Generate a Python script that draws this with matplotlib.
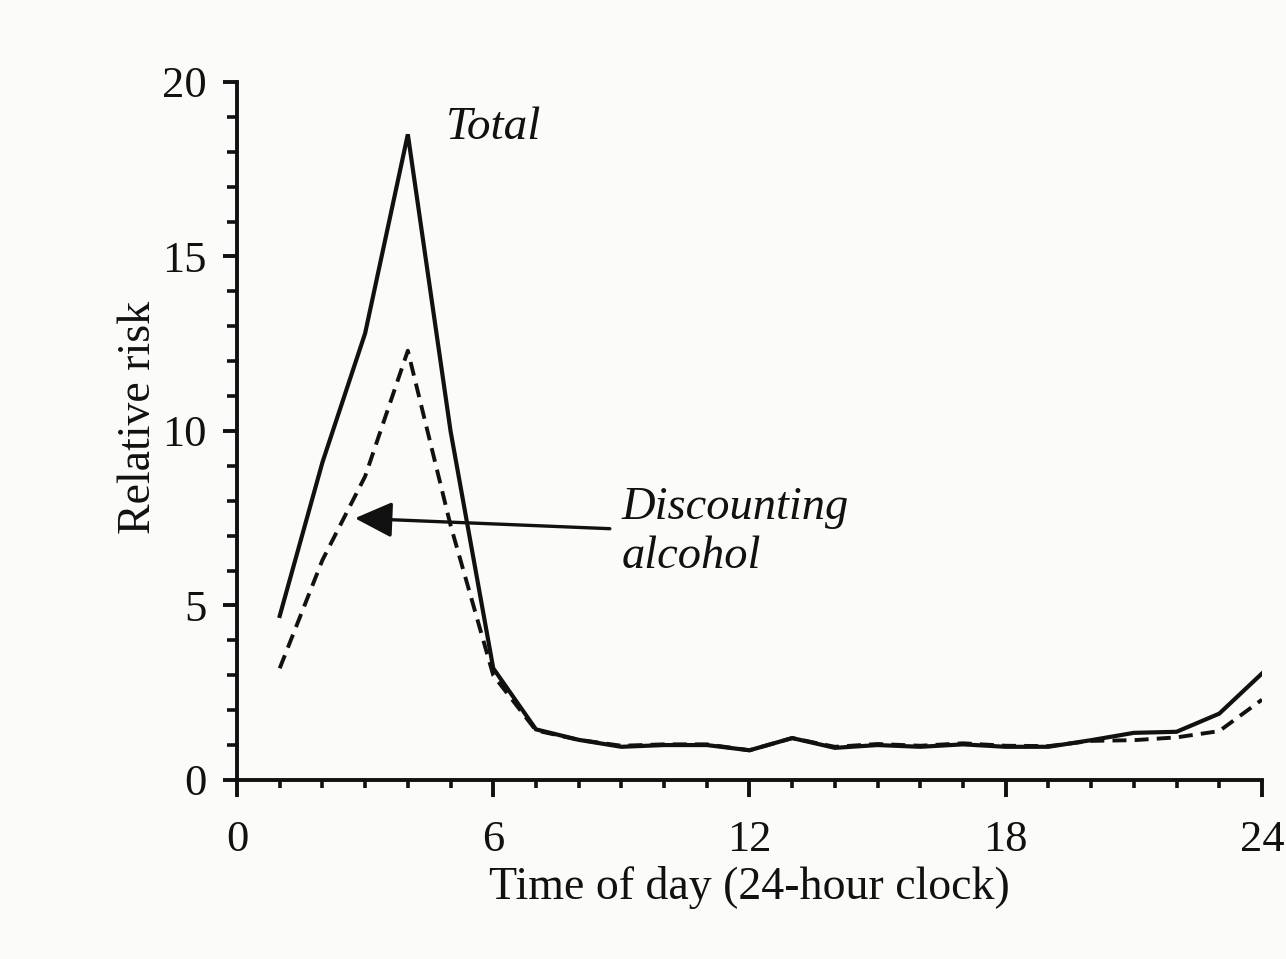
import matplotlib
matplotlib.use("Agg")
import matplotlib.pyplot as plt
from matplotlib.ticker import MultipleLocator

hours = list(range(1, 25))
total = [4.7, 9.1, 12.8, 18.5, 10.0, 3.2, 1.45, 1.15, 0.95, 1.0, 1.0, 0.85,
         1.2, 0.92, 1.0, 0.95, 1.02, 0.95, 0.95, 1.14, 1.35, 1.38, 1.9, 3.05]
no_alcohol = [3.2, 6.3, 8.7, 12.3, 7.3, 3.0, 1.42, 1.15, 0.98, 1.02, 1.02, 0.85,
              1.2, 0.95, 1.03, 0.98, 1.05, 0.98, 0.97, 1.12, 1.14, 1.22, 1.4, 2.3]
xticks = [0, 6, 12, 18, 24]
yticks = [0, 5, 10, 15, 20]

bg = "#fbfbf9"
ink = "#111111"
serif = ["Liberation Serif", "DejaVu Serif"]
plt.rcParams["font.family"] = serif

fig = plt.figure(figsize=(12.86, 9.59), dpi=100, facecolor=bg)
ax = fig.add_axes([0.1843, 0.1867, 0.797, 0.7278], facecolor=bg)

ax.plot(hours, total, color=ink, lw=3.0, solid_joinstyle="miter")
ax.plot(hours, no_alcohol, color=ink, lw=2.8, linestyle=(0, (3.6, 2.1)))

ax.set_xlim(0, 24)
ax.set_ylim(0, 20)
ax.set_xticks(xticks)
ax.set_yticks(yticks)
ax.xaxis.set_minor_locator(MultipleLocator(1))
ax.yaxis.set_minor_locator(MultipleLocator(1))

for s in ["top", "right"]:
    ax.spines[s].set_visible(False)
for s in ["left", "bottom"]:
    ax.spines[s].set_linewidth(2.8)
    ax.spines[s].set_color(ink)

ax.tick_params(axis="both", which="major", direction="out", width=2.8,
               color=ink, labelsize=32, labelcolor=ink)
ax.tick_params(axis="x", which="major", length=12, pad=17)
ax.tick_params(axis="y", which="major", length=10, pad=12)
ax.tick_params(axis="x", which="minor", direction="out", length=6, width=2.6, color=ink)
ax.tick_params(axis="y", which="minor", direction="out", length=7, width=2.6, color=ink)

ax.set_xlabel("Time of day (24-hour clock)", fontsize=33, color=ink, labelpad=4)
ax.set_ylabel("Relative risk", fontsize=33, color=ink)
ax.yaxis.set_label_coords(-0.075, 0.519)

ax.text(6.0, 18.7, "Total", fontsize=34, style="italic", ha="center", va="center",
        color=ink)
ax.text(9.0, 7.1, "Discounting\nalcohol", fontsize=33.5, style="italic", ha="left",
        va="center", color=ink, linespacing=1.2)
ax.annotate("", xy=(2.76, 7.5), xytext=(8.73, 7.2),
            arrowprops=dict(arrowstyle="-|>,head_length=1.15,head_width=0.55",
                            mutation_scale=20, lw=2.4, color=ink,
                            shrinkA=0, shrinkB=0))

fig.savefig("out.png", dpi=100, facecolor=bg)
